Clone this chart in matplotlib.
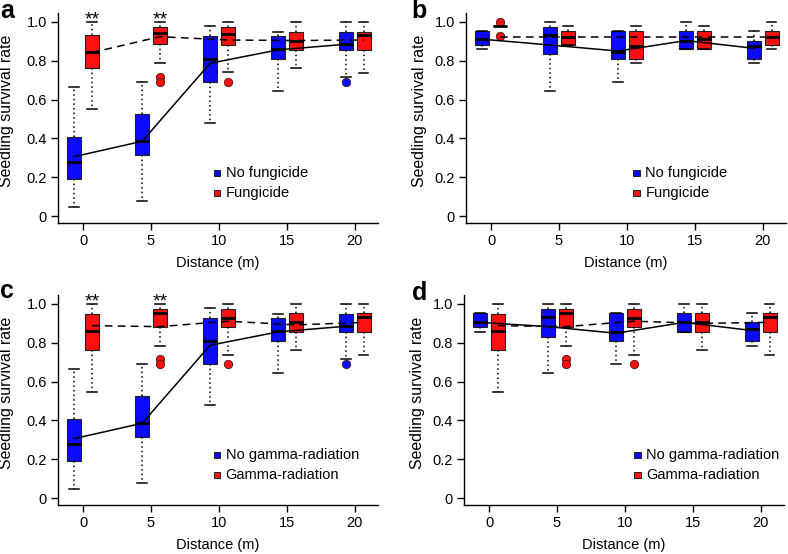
import numpy as np
import matplotlib
matplotlib.use("Agg")
from matplotlib import pyplot as plt
from matplotlib.patches import Rectangle

plt.rcParams['font.family'] = ['Liberation Sans', 'DejaVu Sans']

distance = [0, 5, 10, 15, 20]

# box stats per distance: (whisker low, q1, median, q3, whisker high)
ctrl_a = [(0.048, 0.191, 0.277, 0.409, 0.667), (0.076, 0.313, 0.385, 0.526, 0.692),
          (0.478, 0.692, 0.811, 0.928, 0.979), (0.646, 0.808, 0.859, 0.928, 0.950),
          (0.718, 0.856, 0.887, 0.950, 1.000)]
ctrl_a_out = [[], [], [], [], [0.692]]
ctrl_a_mean = [0.306, 0.385, 0.787, 0.856, 0.885]

fung = [(0.550, 0.761, 0.847, 0.931, 1.000), (0.790, 0.885, 0.945, 0.976, 1.000),
        (0.740, 0.881, 0.936, 0.976, 1.000), (0.763, 0.856, 0.904, 0.950, 1.000),
        (0.739, 0.856, 0.933, 0.950, 1.000)]
fung_out = [[], [0.714, 0.692], [0.692], [], []]
fung_mean = [0.842, 0.924, 0.907, 0.904, 0.907]

ctrl_b = [(0.859, 0.881, 0.911, 0.954, 0.954), (0.646, 0.835, 0.933, 0.976, 1.000),
          (0.692, 0.809, 0.847, 0.954, 0.954), (0.859, 0.859, 0.904, 0.954, 1.000),
          (0.787, 0.809, 0.876, 0.904, 0.954)]
ctrl_b_out = [[], [], [], [], []]
ctrl_b_mean = [0.911, 0.881, 0.850, 0.904, 0.864]

fung_b = [(0.979, 0.979, 0.979, 0.979, 0.979), (0.881, 0.881, 0.924, 0.954, 0.979),
          (0.787, 0.809, 0.876, 0.954, 0.979), (0.859, 0.859, 0.911, 0.954, 0.979),
          (0.859, 0.881, 0.924, 0.954, 1.000)]
fung_b_out = [[1.0, 0.93], [], [], [], []]
fung_b_mean = [0.924, 0.924, 0.924, 0.924, 0.924]

gamma = [(0.548, 0.763, 0.859, 0.948, 1.000), (0.785, 0.883, 0.952, 0.974, 1.000),
         (0.737, 0.880, 0.928, 0.974, 1.000), (0.763, 0.857, 0.905, 0.952, 1.000),
         (0.737, 0.857, 0.931, 0.952, 1.000)]
gamma_out = [[], [0.716, 0.690], [0.690], [], []]
gamma_mean = [0.888, 0.883, 0.911, 0.892, 0.905]

ctrl_d = [(0.857, 0.880, 0.905, 0.952, 0.952), (0.643, 0.832, 0.931, 0.974, 1.000),
          (0.691, 0.811, 0.854, 0.952, 0.952), (0.857, 0.857, 0.905, 0.952, 1.000),
          (0.785, 0.811, 0.871, 0.905, 0.952)]
ctrl_d_out = [[], [], [], [], []]
ctrl_d_mean = [0.905, 0.883, 0.849, 0.905, 0.863]

gamma_d_mean = [0.888, 0.883, 0.911, 0.900, 0.905]

stars = ["**", "**", "", "", ""]

BLUE = "#0a0aff"
RED = "#ff1010"

W, H = 788, 554


def draw_boxes(ax, stats, outs, pos, color):
    st = []
    for (lo, q1, med, q3, hi), fl in zip(stats, outs):
        st.append(dict(whislo=lo, q1=q1, med=med, q3=q3, whishi=hi, fliers=fl))
    ax.bxp(st, positions=pos, widths=1.0, patch_artist=True,
           boxprops=dict(facecolor=color, edgecolor="#202020", linewidth=0.8),
           medianprops=dict(color="black", linewidth=2),
           whiskerprops=dict(color="black", linestyle=(0, (1, 2)), linewidth=1.1),
           capprops=dict(color="black", linewidth=1.1), capwidths=0.7,
           flierprops=dict(marker="o", markerfacecolor=color, markeredgecolor="#501010",
                           markersize=6, markeredgewidth=0.6))


def panel(px, letter, c_stats, c_out, c_mean, t_stats, t_out, t_mean, labels, show_stars,
          leg_x, lab_x, let_px):
    l, t, rt, b = px
    ax = fig.add_axes([l / W, 1 - b / H, (rt - l) / W, (b - t) / H])
    xb = [d - 0.65 for d in distance]
    xr = [d + 0.65 for d in distance]
    draw_boxes(ax, c_stats, c_out, xb, BLUE)
    draw_boxes(ax, t_stats, t_out, xr, RED)
    ax.plot(xb, c_mean, color="black", lw=1.1, zorder=5)
    ax.plot(xr, t_mean, color="black", lw=1.1, ls=(0, (5, 3.5)), zorder=5)
    if show_stars:
        for x, s in zip(xr, stars):
            ax.text(x, 0.985, s, ha="center", va="baseline", fontsize=14)
    ax.set_xlim(-1.84, 21.7)
    ax.set_ylim(-0.036, 1.046)
    ax.set_xticks(distance)
    ax.set_xticklabels([str(d) for d in distance])
    ax.set_yticks([0, 0.2, 0.4, 0.6, 0.8, 1.0])
    ax.set_yticklabels(["0", "0.2", "0.4", "0.6", "0.8", "1.0"])
    ax.tick_params(labelsize=10.5, length=5, width=1, pad=3)
    for s in ["top", "right"]:
        ax.spines[s].set_visible(False)
    for s in ["left", "bottom"]:
        ax.spines[s].set_linewidth(1)
    ax.set_xlabel("Distance (m)", fontsize=10.5, labelpad=6)
    ax.set_ylabel("Seedling survival rate", fontsize=11.4)
    ax.yaxis.set_label_coords(lab_x, 0.535)
    # legend
    for i, (lab, col) in enumerate(zip(labels, [BLUE, RED])):
        y = 0.222 - i * 0.103
        ax.add_patch(Rectangle((leg_x, y - 0.016), 0.5, 0.032, facecolor=col,
                               edgecolor="#202020", lw=0.7))
        ax.text(leg_x + 0.9, y, lab, va="center", ha="left", fontsize=10.5)
    fig.text(let_px[0] / W, 1 - let_px[1] / H, letter, fontsize=18,
             fontweight="bold", ha="left", va="baseline")
    return ax


fig = plt.figure(figsize=(7.88, 5.54), dpi=100)

panel((58, 13, 378, 223), "a", ctrl_a, ctrl_a_out, ctrl_a_mean, fung, fung_out, fung_mean,
      ["No fungicide", "Fungicide"], True, 9.6, -0.1375, (0, 18))
panel((466, 13, 786, 223), "b", ctrl_b, ctrl_b_out, ctrl_b_mean, fung_b, fung_b_out, fung_b_mean,
      ["No fungicide", "Fungicide"], False, 10.45, -0.122, (411, 18))
panel((58, 295, 378, 505), "c", ctrl_a, ctrl_a_out, ctrl_a_mean, gamma, gamma_out, gamma_mean,
      ["No gamma-radiation", "Gamma-radiation"], True, 9.6, -0.1375, (0, 298))
panel((464, 295, 784, 505), "d", ctrl_d, ctrl_d_out, ctrl_d_mean, gamma, gamma_out, gamma_d_mean,
      ["No gamma-radiation", "Gamma-radiation"], False, 10.65, -0.122, (412, 300))

fig.savefig("out.png", dpi=100)
